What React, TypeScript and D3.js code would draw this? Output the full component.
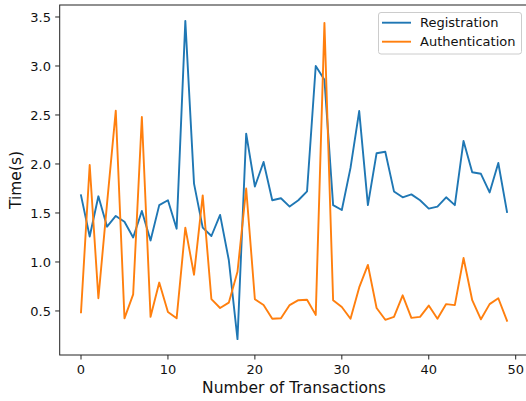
import React from "react";
import * as d3 from "d3";

const xs: number[] = Array.from({ length: 50 }, (_, i) => i);
const registration: number[] = [
  1.68, 1.26, 1.67, 1.36, 1.47, 1.41, 1.25, 1.52, 1.22, 1.58,
  1.63, 1.34, 3.46, 1.80, 1.35, 1.265, 1.48, 1.02, 0.213, 2.31,
  1.77, 2.02, 1.63, 1.65, 1.565, 1.63, 1.72, 3.00, 2.86, 1.58,
  1.53, 1.96, 2.54, 1.58, 2.11, 2.125, 1.72, 1.66, 1.69, 1.63,
  1.545, 1.565, 1.66, 1.58, 2.235, 1.915, 1.90, 1.71, 2.01, 1.51,
];
const authentication: number[] = [
  0.487, 1.99, 0.63, 1.6, 2.544, 0.425, 0.67, 2.48, 0.44, 0.79,
  0.49, 0.425, 1.35, 0.87, 1.68, 0.62, 0.53, 0.585, 0.90, 1.75,
  0.62, 0.56, 0.42, 0.425, 0.56, 0.61, 0.615, 0.46, 3.44, 0.61,
  0.54, 0.42, 0.74, 0.97, 0.53, 0.41, 0.44, 0.66, 0.43, 0.44,
  0.555, 0.42, 0.57, 0.56, 1.04, 0.61, 0.415, 0.57, 0.63, 0.40,
];
const seriesNames: string[] = ["Registration", "Authentication"];
const seriesColors: string[] = ["#1f77b4", "#ff7f0e"];
const xTicks: number[] = [0, 10, 20, 30, 40, 50];
const yTicks: number[] = [0.5, 1.0, 1.5, 2.0, 2.5, 3.0, 3.5];
const xLabel = "Number of Transactions";
const yLabel = "Time(s)";

const W = 526;
const H = 401;
const left = 59.7;
const right = 528.3;
const top = 5;
const bottom = 355;
const FONT = "DejaVu Sans, sans-serif";

export default function App() {
  const all = [...registration, ...authentication];
  const ymin = d3.min(all)!;
  const ymax = d3.max(all)!;
  const ypad = (ymax - ymin) * 0.05;
  const xpad = (d3.max(xs)! - d3.min(xs)!) * 0.05;
  const x = d3.scaleLinear().domain([d3.min(xs)! - xpad, d3.max(xs)! + xpad]).range([left, right]);
  const y = d3.scaleLinear().domain([ymin - ypad, ymax + ypad]).range([bottom, top]);
  const line = d3
    .line<number>()
    .x((_, i) => x(xs[i]))
    .y((d) => y(d));
  const data = [registration, authentication];

  return (
    <svg width={W} height={H} style={{ position: "absolute", left: 0, top: 0, background: "#fff" }}>
      <rect x={0} y={0} width={W} height={H} fill="#fff" />
      {data.map((s, k) => (
        <path
          key={k}
          d={line(s) || ""}
          fill="none"
          stroke={seriesColors[k]}
          strokeWidth={1.9}
          strokeLinejoin="round"
          strokeLinecap="square"
        />
      ))}
      {/* spines */}
      <rect x={left} y={top} width={right - left} height={bottom - top} fill="none" stroke="#222" strokeWidth={1} />
      {/* x ticks */}
      {xTicks.map((t) => (
        <g key={t}>
          <line x1={x(t)} x2={x(t)} y1={bottom} y2={bottom + 4.5} stroke="#222" strokeWidth={1} />
          <text x={x(t)} y={373.5} textAnchor="middle" fontFamily={FONT} fontSize={13} fill="#111">
            {t}
          </text>
        </g>
      ))}
      {/* y ticks */}
      {yTicks.map((t) => (
        <g key={t}>
          <line x1={left - 4.5} x2={left} y1={y(t)} y2={y(t)} stroke="#222" strokeWidth={1} />
          <text x={51} y={y(t)} dy="0.36em" textAnchor="end" fontFamily={FONT} fontSize={13} fill="#111">
            {t.toFixed(1)}
          </text>
        </g>
      ))}
      <text x={(left + right) / 2} y={393} textAnchor="middle" fontFamily={FONT} fontSize={15.5} fill="#111">
        {xLabel}
      </text>
      <text
        transform={`translate(21, ${(top + bottom) / 2}) rotate(-90)`}
        textAnchor="middle"
        fontFamily={FONT}
        fontSize={15.5}
        fill="#111"
      >
        {yLabel}
      </text>
      {/* legend */}
      <rect x={378.5} y={12.5} width={143} height={41.5} rx={2.5} fill="#fff" fillOpacity={0.8} stroke="#ccc" strokeWidth={1} />
      {seriesNames.map((n, k) => (
        <g key={n}>
          <line x1={382} x2={411} y1={22.7 + k * 19} y2={22.7 + k * 19} stroke={seriesColors[k]} strokeWidth={1.9} />
          <text x={420} y={22.7 + k * 19} dy="0.36em" fontFamily={FONT} fontSize={13} fill="#111">
            {n}
          </text>
        </g>
      ))}
    </svg>
  );
}
